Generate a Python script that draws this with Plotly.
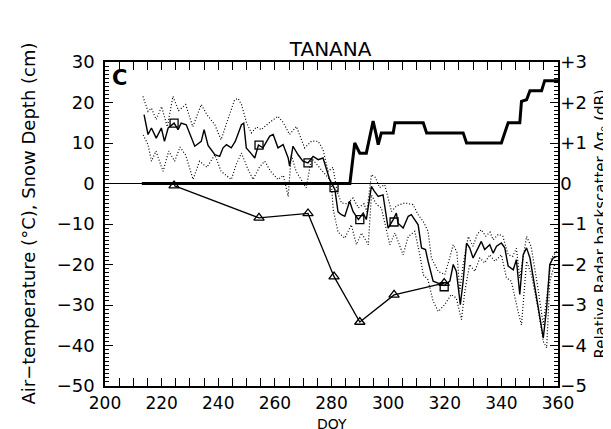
import plotly.graph_objects as go

# ---------------- data ----------------
temp_doy = [213.8, 215.2, 216.4, 218.1, 219.9, 221.0, 222.3, 224.4, 225.8, 226.9, 228.7, 231.1,
            231.7, 234.0, 235.0, 236.4, 238.8, 240.5, 241.7, 242.9, 244.6, 246.0, 248.2, 249.0,
            249.9, 251.5, 252.9, 254.2, 255.8, 258.2, 259.4, 261.1, 262.9, 264.7, 265.2, 266.4,
            268.2, 269.9, 271.7, 273.5, 275.3, 277.0, 278.2, 279.4, 281.2, 282.3, 283.5, 284.7,
            286.4, 287.6, 289.5, 291.2, 292.3, 294.1, 295.1, 296.5, 298.2, 300.0, 301.8, 302.9,
            303.5, 305.3, 307.1, 308.2, 310.6, 311.8, 313.2, 314.1, 315.9, 317.7, 319.8, 321.8,
            323.0, 324.1, 325.5, 326.5, 327.7, 328.8, 330.0, 331.8, 332.9, 334.1, 335.9, 337.1,
            338.3, 340.0, 341.2, 342.4, 344.2, 345.3, 346.5, 347.7, 348.9, 350.1, 351.9, 353.6,
            354.8, 356.0, 357.1, 358.3, 359.5]
temp_mean = [17.0, 12.1, 13.7, 11.2, 13.7, 10.4, 13.7, 14.9, 13.3, 14.9, 14.5, 10.0,
             9.2, 10.4, 13.3, 9.4, 7.1, 6.7, 8.8, 9.6, 8.8, 10.4, 14.5, 14.9,
             8.8, 7.5, 6.3, 9.5, 8.8, 11.7, 12.1, 8.8, 9.6, 6.3, 4.3, 9.2,
             7.1, 5.5, 5.1, 6.7, 5.9, 6.3, 3.4, 0.9, -1.5, -7.0, -7.7, -8.1,
             -4.4, -6.9, -8.9, -7.3, -8.9, -0.7, -1.9, -3.2, -2.8, -11.0, -8.9, -7.3,
             -9.8, -11.0, -8.1, -7.7, -10.2, -15.9, -16.3, -19.2, -24.1, -24.6, -25.2, -24.1,
             -20.0, -21.7, -29.9, -24.1, -14.7, -15.9, -18.4, -15.9, -14.3, -16.3, -15.1, -17.2,
             -15.5, -14.7, -15.9, -20.4, -21.3, -18.8, -27.4, -17.6, -15.9, -18.4, -25.8, -33.2,
             -38.1, -30.7, -20.0, -18.4, -18.0]

tmax_doy = [213.4, 215.2, 216.4, 218.1, 220.0, 222.0, 224.0, 226.0, 228.5, 231.0, 234.0, 236.0,
            238.8, 241.0, 243.0, 245.8, 247.0, 248.2, 250.0, 251.7, 253.5, 255.2, 258.0, 261.1,
            263.0, 265.2, 267.6, 270.5, 273.0, 275.3, 277.0, 278.8, 280.5, 282.0, 283.5, 285.5,
            287.6, 289.5, 291.5, 292.5, 294.1, 295.5, 297.0, 298.8, 301.2, 303.0, 305.9, 308.8,
            310.6, 312.5, 314.1, 315.3, 317.7, 320.0, 321.5, 323.0, 324.3, 325.3, 326.5, 328.3,
            330.0, 331.5, 332.9, 334.5, 336.0, 337.1, 339.0, 340.5, 342.4, 344.0, 345.3, 346.5,
            348.9, 350.5, 352.9, 354.8, 356.2, 357.7, 359.5]
temp_max = [21.5, 17.8, 18.6, 15.8, 19.0, 14.0, 21.5, 18.0, 19.5, 14.0, 19.5, 17.0,
            14.5, 10.8, 15.0, 20.7, 21.0, 19.5, 15.0, 12.5, 14.0, 13.3, 15.0, 16.6,
            15.0, 12.1, 14.1, 8.8, 10.5, 10.4, 8.4, 3.0, 4.0, -2.0, -4.8, -5.0,
            -3.6, -6.0, -5.0, -7.0, 2.2, 1.5, -1.0, -0.3, -6.9, -5.5, -4.8, -5.2,
            -7.7, -9.5, -11.8, -18.4, -21.7, -22.5, -19.0, -15.1, -17.0, -26.6, -20.0, -13.1,
            -15.5, -12.5, -11.4, -13.0, -12.0, -13.9, -12.5, -13.0, -17.6, -18.0, -16.0, -23.3,
            -13.1, -15.5, -25.8, -34.9, -27.0, -18.4, -16.7]

tmin_doy = [213.5, 215.2, 216.4, 218.0, 220.5, 222.5, 224.6, 226.5, 228.5, 231.1, 233.4, 236.0,
            238.8, 241.0, 244.6, 246.5, 248.2, 250.5, 252.3, 254.5, 256.4, 258.5, 261.1, 263.0,
            264.7, 265.8, 267.5, 269.4, 271.1, 272.9, 275.8, 278.0, 279.9, 280.6, 282.3, 284.7,
            287.0, 288.8, 290.6, 293.0, 294.1, 295.9, 297.6, 300.6, 302.4, 305.3, 307.1, 309.4,
            311.2, 312.4, 314.1, 315.9, 317.7, 320.0, 322.3, 324.1, 325.9, 327.1, 328.8, 330.6,
            332.4, 334.1, 335.9, 337.7, 340.0, 341.8, 343.5, 345.9, 347.1, 348.9, 350.6, 352.9,
            354.8, 356.0, 357.1, 358.8]
temp_min = [12.0, 9.6, 5.5, 8.0, 3.0, 8.0, 5.5, 9.0, 7.0, 1.0, 5.5, 4.0,
            7.1, 3.0, 1.0, 5.0, 7.5, 3.5, 1.0, 4.0, 5.5, 3.0, 1.0, 2.0,
            -3.2, 7.1, 3.0, 1.0, -1.1, 6.3, 3.8, 2.0, 0.5, -6.4, -12.0, -13.5,
            -10.2, -15.1, -12.2, -15.1, -2.8, -5.2, -6.0, -15.1, -12.2, -17.6, -13.1, -11.8,
            -17.6, -22.5, -23.8, -29.1, -31.6, -29.9, -27.4, -28.3, -33.6, -26.6, -20.0, -21.7,
            -18.4, -19.6, -17.6, -19.2, -17.6, -23.3, -24.1, -31.6, -34.9, -19.2, -22.5, -30.7,
            -39.0, -40.6, -24.1, -20.0]

snow_doy = [213.0, 286.5, 288.2, 290.0, 292.3, 294.7, 295.8, 296.5, 297.6, 301.8, 302.4, 312.4,
            313.6, 326.5, 327.7, 340.0, 342.4, 346.5, 347.1, 348.9, 350.1, 354.2, 355.3, 360.0]
snow_depth = [0.0, 0.0, 10.0, 7.5, 7.5, 15.4, 12.0, 9.6, 12.5, 12.5, 15.0, 15.0,
              12.5, 12.5, 10.0, 10.0, 15.0, 15.0, 20.3, 20.7, 22.9, 22.9, 25.4, 25.4]

radar_doy = [224.4, 254.4, 271.7, 280.9, 290.0, 302.1, 319.8]
radar_db = [-0.05, -0.85, -0.74, -2.30, -3.42, -2.75, -2.46]
radar_temp = [14.9, 9.5, 5.1, -1.0, -8.9, -9.5, -25.5]   # temperature at radar dates (squares)

x_ticks = [200, 220, 240, 260, 280, 300, 320, 340, 360]
left_ticks = [-50, -40, -30, -20, -10, 0, 10, 20, 30]
right_ticks = [-5, -4, -3, -2, -1, 0, 1, 2, 3]
right_labels = ["\u22125", "\u22124", "\u22123", "\u22122", "\u22121", "0", "+1", "+2", "+3"]
left_labels = [("\u2212" + str(-v)) if v < 0 else str(v) for v in left_ticks]

x_minor = [200 + 5 * i for i in range(33)]
left_minor = [-50 + i for i in range(81)]
right_minor = [round(-5 + 0.1 * i, 1) for i in range(81)]

# ---------------- figure ----------------
FONT = "DejaVu Sans"
fig = go.Figure()

dotted = dict(color="black", width=1.2, dash="1px,2px")
fig.add_trace(go.Scatter(x=tmax_doy, y=temp_max, mode="lines", line=dotted, showlegend=False))
fig.add_trace(go.Scatter(x=tmin_doy, y=temp_min, mode="lines", line=dotted, showlegend=False))
fig.add_trace(go.Scatter(x=temp_doy, y=temp_mean, mode="lines",
                         line=dict(color="black", width=1.4), showlegend=False))
fig.add_trace(go.Scatter(x=snow_doy, y=snow_depth, mode="lines",
                         line=dict(color="black", width=3), showlegend=False))
fig.add_trace(go.Scatter(x=radar_doy, y=radar_temp, mode="markers",
                         marker=dict(symbol="square-open", size=8, color="black",
                                     line=dict(width=1.3)), showlegend=False))
fig.add_trace(go.Scatter(x=radar_doy, y=radar_db, mode="lines+markers", yaxis="y2",
                         line=dict(color="black", width=1.3),
                         marker=dict(symbol="triangle-up-open", size=9, color="black",
                                     line=dict(width=1.3)), showlegend=False))

fig.add_shape(type="line", xref="paper", x0=0, x1=1, yref="y", y0=0, y1=0,
              line=dict(color="black", width=1.2))

fig.add_annotation(text="<b>C</b>", xref="paper", yref="paper", x=0.012, y=0.95,
                   xanchor="left", yanchor="middle", showarrow=False,
                   font=dict(family=FONT, size=21, color="black"))

# axis titles as annotations (precise placement)
fig.add_annotation(text="Air\u2212temperature (\u00b0C), Snow Depth (cm)",
                   xref="paper", yref="paper", x=-0.171, y=0.5, textangle=-90,
                   xanchor="center", yanchor="middle", showarrow=False,
                   font=dict(family=FONT, size=18, color="black"))
fig.add_annotation(text="Relative Radar backscatter \u0394\u03c3\u2092 (dB)",
                   xref="paper", yref="paper", x=1.094, y=0.5, textangle=-90,
                   xanchor="center", yanchor="middle", showarrow=False,
                   font=dict(family=FONT, size=15, color="black"))
fig.add_annotation(text="DOY", xref="paper", yref="paper", x=0.5, y=-0.117,
                   xanchor="center", yanchor="middle", showarrow=False,
                   font=dict(family=FONT, size=14, color="black"))

axis_common = dict(showgrid=False, zeroline=False, showline=True, linecolor="black",
                   linewidth=1.5, ticks="inside", tickcolor="black", tickwidth=1.3,
                   automargin=False)
tick_font = dict(family=FONT, size=18, color="black")
minor_common = dict(tickmode="array", ticks="inside", ticklen=4, tickcolor="black", tickwidth=1)

fig.update_layout(
    width=611, height=429,
    margin=dict(l=97, r=61, t=54, b=51, autoexpand=False),
    paper_bgcolor="white", plot_bgcolor="white",
    title=dict(text="TANANA", x=0.528, xanchor="center", y=0.905, yanchor="middle",
               font=dict(family=FONT, size=20, color="black")),
    xaxis=dict(range=[200, 360], tickmode="array", tickvals=x_ticks, ticklen=8, mirror="allticks",
               minor=dict(tickvals=x_minor, **minor_common),
               tickfont=dict(family=FONT, size=17, color="black"),
               ticklabelstandoff=1, **axis_common),
    yaxis=dict(range=[-50, 30], tickmode="array", tickvals=left_ticks, ticktext=left_labels, ticklen=8,
               minor=dict(tickvals=left_minor, **minor_common),
               tickfont=tick_font, ticklabelstandoff=5, **axis_common),
    yaxis2=dict(range=[-5, 3], overlaying="y", side="right", anchor="x", tickmode="array",
                tickvals=right_ticks, ticktext=right_labels, ticklen=8,
                minor=dict(tickvals=right_minor, **minor_common),
                tickfont=tick_font, ticklabelstandoff=-3, **axis_common),
)

fig.write_html("out.html")
